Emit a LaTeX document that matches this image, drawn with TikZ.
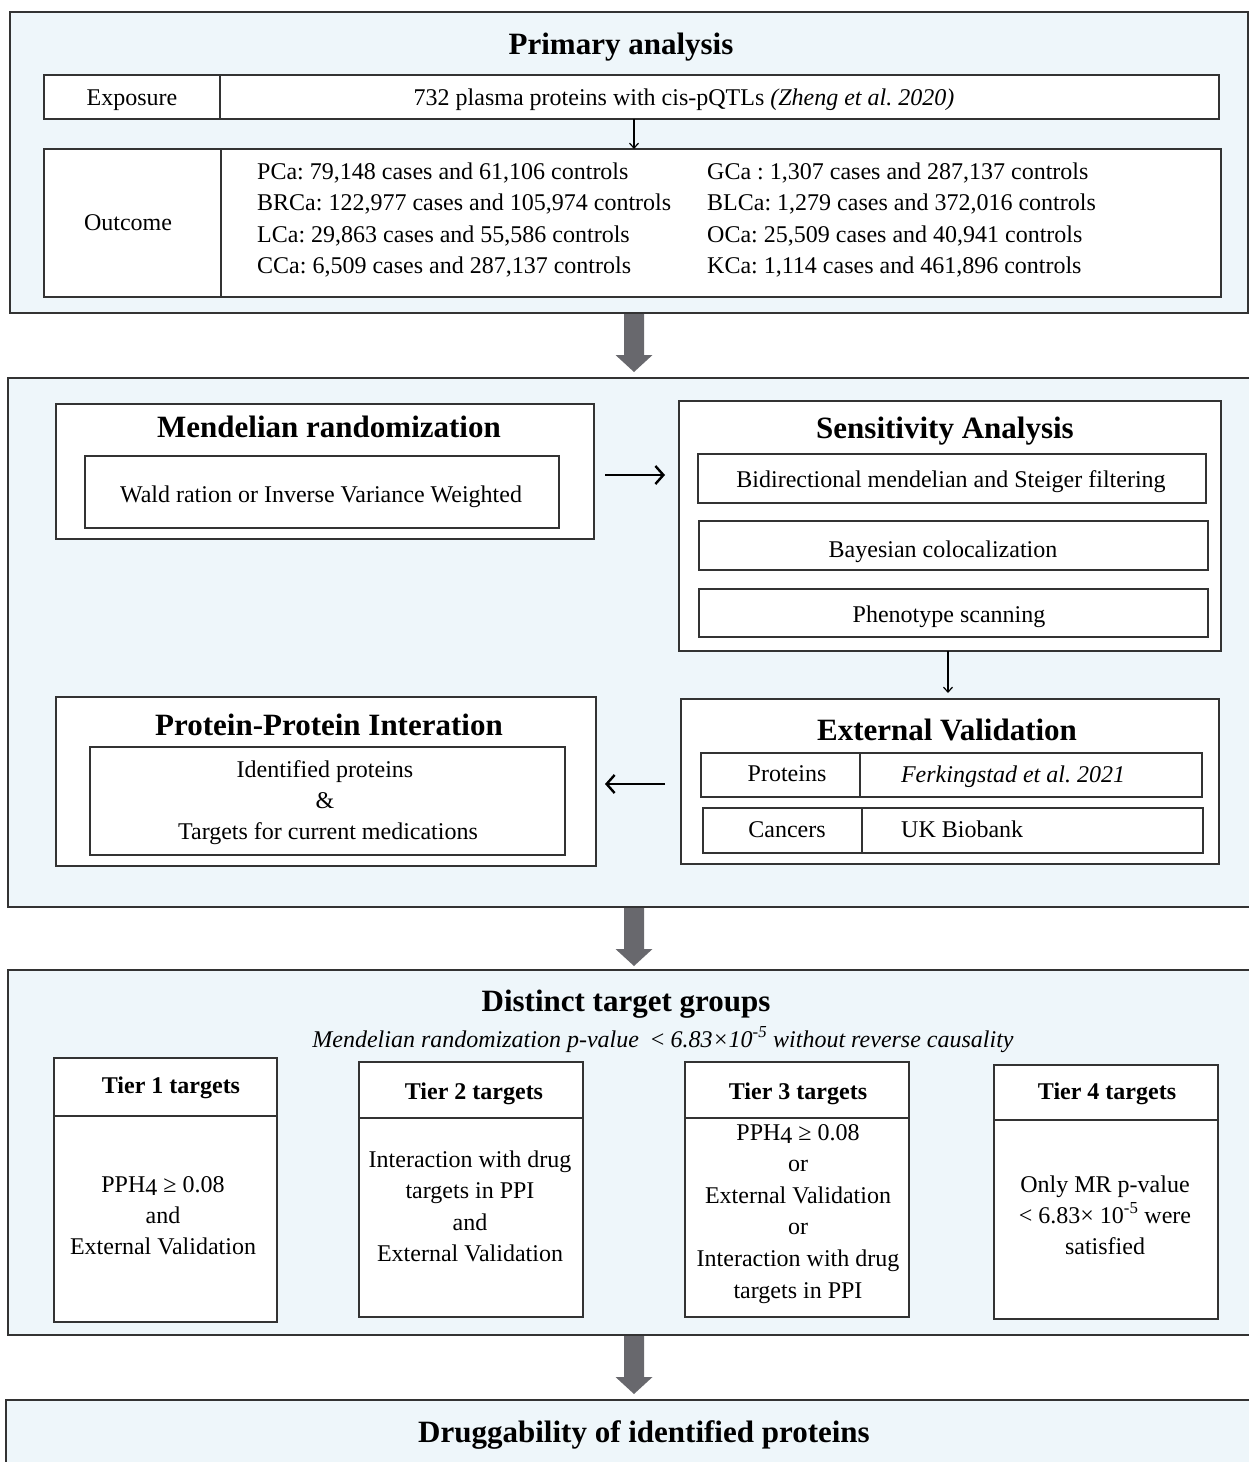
\documentclass[tikz,border=0pt]{standalone}
\usepackage{fontspec}
\setmainfont{Liberation Serif}
\usetikzlibrary{arrows.meta,calc}
\definecolor{panelfill}{HTML}{EEF6FA}
\definecolor{edgecol}{HTML}{333333}
\definecolor{bigarrowcol}{HTML}{68686D}
\newcommand\mkbox[6]{\node[#6, minimum width={(#4)-(#2)}, minimum height={(#5)-(#3)}] (#1) at ({((#2)+(#4))/2},{((#3)+(#5))/2}) {};}
\newcommand\pphfour{PPH\raisebox{-3pt}{4} ≥ 0.08}
\frenchspacing
\begin{document}
\frenchspacing
\begin{tikzpicture}[x=1pt,y=-1pt,
 panel/.style={draw=edgecol,line width=1.8pt,fill=panelfill,inner sep=0pt,outer sep=0pt},
 wbox/.style={draw=edgecol,line width=1.6pt,fill=white,inner sep=0pt,outer sep=0pt},
 body/.style={font=\fontsize{24}{31.5}\selectfont\frenchspacing,inner sep=0pt,anchor=base},
 bodyl/.style={body,anchor=base west},
 ttl/.style={font=\fontsize{31}{36}\selectfont\bfseries,inner sep=0pt,anchor=base},
 thd/.style={font=\fontsize{24}{28}\selectfont\bfseries,inner sep=0pt,anchor=base},
 varr/.style={draw=black,line width=1.2pt,-{Straight Barb[length=5pt,width=9pt]}},
 harr/.style={draw=black,line width=2.4pt,-{Straight Barb[length=8pt,width=18pt]}},
 bigarr/.style={fill=bigarrowcol,draw=none}]
\clip (0,0) rectangle (1249,1462);
\fill[white] (0,0) rectangle (1249,1462);

% ---------- panels ----------
\mkbox{p1}{10}{12}{1248}{313}{panel}
\mkbox{p2}{8}{378}{1262}{907}{panel}
\mkbox{p3}{8}{970}{1262}{1335}{panel}
\mkbox{p4}{6}{1400}{1262}{1480}{panel}

% ---------- primary analysis ----------
\node[ttl] (t1) at (621,54) {Primary analysis};
\mkbox{expL}{44}{75}{220}{119}{wbox}
\mkbox{expR}{220}{75}{1219}{119}{wbox}
\node[body] (expLt) at (132,105) {Exposure};
\node[body] (expRt) at (684,105) {732 plasma proteins with cis-pQTLs \textit{(Zheng et al. 2020)}};
\mkbox{outL}{44}{149}{221}{297}{wbox}
\mkbox{outR}{221}{149}{1221}{297}{wbox}
\node[body] (outLt) at (128,230) {Outcome};
\node[bodyl] (oa1) at (257,179) {PCa: 79,148 cases and 61,106 controls};
\node[bodyl] (oa2) at (257,210.5) {BRCa: 122,977 cases and 105,974 controls};
\node[bodyl] (oa3) at (257,242) {LCa: 29,863 cases and 55,586 controls};
\node[bodyl] (oa4) at (257,273.5) {CCa: 6,509 cases and 287,137 controls};
\node[bodyl] (ob1) at (707,179) {GCa : 1,307 cases and 287,137 controls};
\node[bodyl] (ob2) at (707,210.5) {BLCa: 1,279 cases and 372,016 controls};
\node[bodyl] (ob3) at (707,242) {OCa: 25,509 cases and 40,941 controls};
\node[bodyl] (ob4) at (707,273.5) {KCa: 1,114 cases and 461,896 controls};
\coordinate (ax) at (634,0);
\draw[varr] (expR.south -| ax) -- (outR.north -| ax);

% ---------- panel 2 ----------
\mkbox{mr}{56}{404}{594}{539}{wbox}
\node[ttl] (mrt) at (329,437) {Mendelian randomization};
\mkbox{mri}{85}{456}{559}{528}{wbox}
\node[body] (mrit) at (321,502) {Wald ration or Inverse Variance Weighted};

\mkbox{sa}{679}{401}{1221}{651}{wbox}
\node[ttl] (sat) at (945,438) {Sensitivity Analysis};
\mkbox{sa1}{698}{454}{1206}{503}{wbox}
\node[body] (sa1t) at (951,487) {Bidirectional mendelian and Steiger filtering};
\mkbox{sa2}{699}{521}{1208}{570}{wbox}
\node[body] (sa2t) at (943,557) {Bayesian colocalization};
\mkbox{sa3}{699}{589}{1208}{637}{wbox}
\node[body] (sa3t) at (949,622) {Phenotype scanning};

\mkbox{ev}{681}{699}{1219}{864}{wbox}
\node[ttl] (evt) at (947,740) {External Validation};
\mkbox{evpL}{701}{753}{860}{797}{wbox}
\mkbox{evpR}{860}{753}{1202}{797}{wbox}
\node[body] (evpLt) at (787,781) {Proteins};
\node[body] (evpRt) at (1013,782) {\textit{Ferkingstad et al. 2021}};
\mkbox{evcL}{703}{808}{862}{853}{wbox}
\mkbox{evcR}{862}{808}{1203}{853}{wbox}
\node[body] (evcLt) at (787,837) {Cancers};
\node[bodyl] (evcRt) at (901,837) {UK Biobank};

\mkbox{ppi}{56}{697}{596}{866}{wbox}
\node[ttl] (ppit) at (329,735) {Protein-Protein Interation};
\mkbox{ppii}{90}{747}{565}{855}{wbox}
\node[body] (ppi1) at (325,777) {Identified proteins};
\node[body] (ppi2) at (325,808) {\&};
\node[body] (ppi3) at (328,839) {Targets for current medications};

\coordinate (hy1) at (0,475);
\coordinate (hy2) at (0,784);
\coordinate (vx) at (948,0);
\draw[harr] ($(mr.east |- hy1)+(11,0)$) -- ($(sa.west |- hy1)+(-14,0)$);
\draw[varr] (sa.south -| vx) -- ($(ev.north -| vx)+(0,-6)$);
\draw[harr] ($(ev.west |- hy2)+(-16,0)$) -- ($(ppi.east |- hy2)+(9,0)$);

% ---------- panel 3 ----------
\node[ttl] (dtt) at (626,1011) {Distinct target groups};
\node[body] (dts) at (663,1047) {\textit{Mendelian randomization p-value}\ \ <\ \textit{6.83×10\textsuperscript{-5} without reverse causality}};

\mkbox{t1h}{54}{1058}{277}{1116}{wbox}
\mkbox{t1b}{54}{1116}{277}{1322}{wbox}
\node[thd] (t1ht) at (171,1093) {Tier 1 targets};
\foreach \t [count=\i] in {\pphfour, and, External Validation}
  \node[body] (t1l\i) at (163,{1192+31*(\i-1)}) {\t};

\mkbox{t2h}{359}{1062}{583}{1118}{wbox}
\mkbox{t2b}{359}{1118}{583}{1317}{wbox}
\node[thd] (t2ht) at (474,1099) {Tier 2 targets};
\foreach \t [count=\i] in {Interaction with drug, targets in PPI, and, External Validation}
  \node[body] (t2l\i) at (470,{1167+31.5*(\i-1)}) {\t};

\mkbox{t3h}{685}{1062}{909}{1118}{wbox}
\mkbox{t3b}{685}{1118}{909}{1317}{wbox}
\node[thd] (t3ht) at (798,1099) {Tier 3 targets};
\foreach \t [count=\i] in {\pphfour, or, External Validation, or, Interaction with drug, targets in PPI}
  \node[body] (t3l\i) at (798,{1140+31.6*(\i-1)}) {\t};

\mkbox{t4h}{994}{1065}{1218}{1120}{wbox}
\mkbox{t4b}{994}{1120}{1218}{1319}{wbox}
\node[thd] (t4ht) at (1107,1099) {Tier 4 targets};
\foreach \t [count=\i] in {Only MR p-value, {< 6.83× 10\textsuperscript{-5} were}, satisfied}
  \node[body] (t4l\i) at (1105,{1192+31*(\i-1)}) {\t};

% ---------- panel 4 ----------
\node[ttl] (drt) at (644,1442) {Druggability of identified proteins};

% ---------- big arrows ----------
\fill[bigarr] ($(p1.south -| ax)+(-10,1)$) -- ++(20,0) -- ++(0,41) -- ++(8.5,0) -- ++(-18.5,17) -- ++(-18.5,-17) -- ++(8.5,0) -- cycle;
\fill[bigarr] ($(p2.south -| ax)+(-10,1)$) -- ++(20,0) -- ++(0,41) -- ++(8.5,0) -- ++(-18.5,17) -- ++(-18.5,-17) -- ++(8.5,0) -- cycle;
\fill[bigarr] ($(p3.south -| ax)+(-10,1)$) -- ++(20,0) -- ++(0,41) -- ++(8.5,0) -- ++(-18.5,17) -- ++(-18.5,-17) -- ++(8.5,0) -- cycle;
\end{tikzpicture}
\end{document}
